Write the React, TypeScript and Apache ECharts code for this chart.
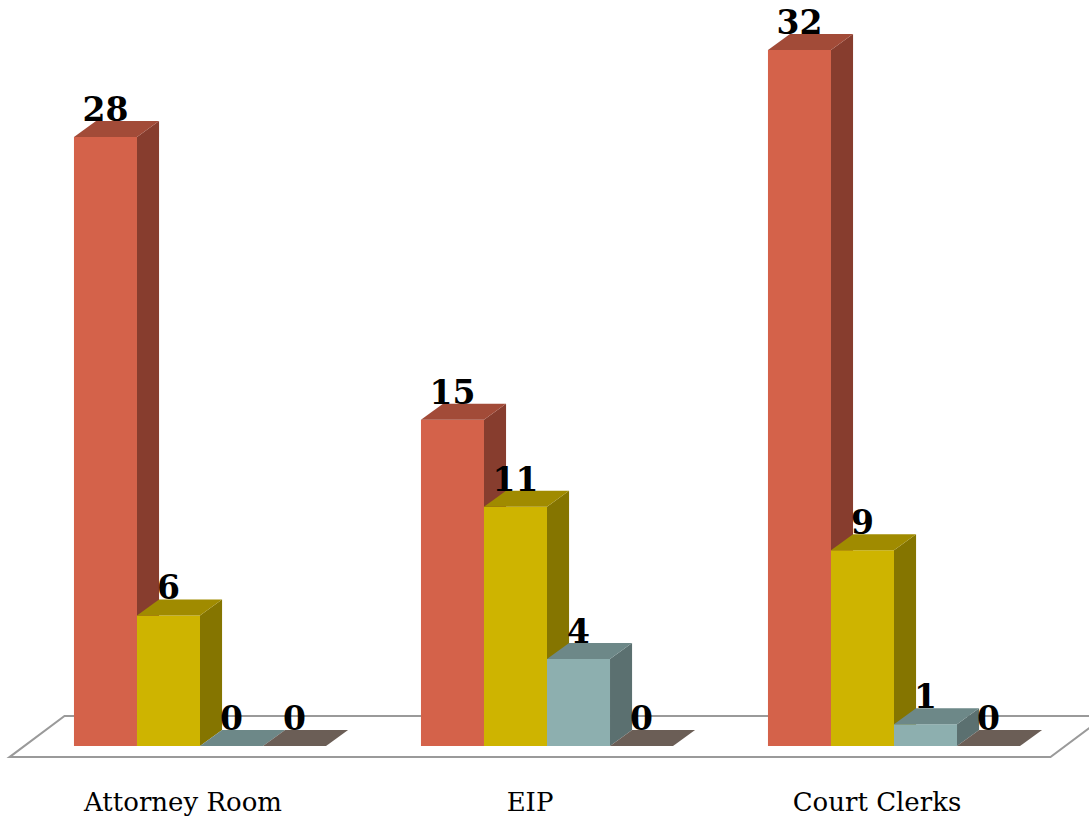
import { useEffect, useRef } from "react";
import * as echarts from "echarts";

// Category names and values for each of the four series
const categories = ["Attorney Room", "EIP", "Court Clerks"];
const seriesRed = [28, 15, 32];
const seriesYellow = [6, 11, 9];
const seriesTeal = [0, 4, 1];
const seriesBrown = [0, 0, 0];
const allSeries = [seriesRed, seriesYellow, seriesTeal, seriesBrown];

// Face shades for each box: front, right side, top
const shades = [
  { front: "#D4624A", side: "#873D2E", top: "#A24B38" },
  { front: "#CEB400", side: "#857500", top: "#A08B00" },
  { front: "#8DAFAF", side: "#5B7070", top: "#6D8888" },
  { front: "#7A6C62", side: "#564B44", top: "#6B5E56" },
];

const BAR_RATIO = 0.1816; // bar width relative to the category band
const GROUP_SHIFT = 0.049; // group offset to the right of the band centre
const DEPTH_X = 0.35; // depth offset, in bar widths
const DEPTH_Y = 0.254;

function boxRenderer(idx: number) {
  return (params: any, api: any) => {
    const cat = api.value(0);
    const val = api.value(1);
    const base = api.coord([cat, 0]);
    const top = api.coord([cat, val]);
    const band = api.size([1, 0])[0];
    const w = band * BAR_RATIO;
    const x0 = base[0] + band * GROUP_SHIFT + (idx - 2) * w;
    const x1 = x0 + w;
    const yb = base[1];
    const yt = top[1];
    const dx = w * DEPTH_X;
    const dy = w * DEPTH_Y;
    const c = shades[idx];
    const children: any[] = [];
    if (yb - yt > 0.5) {
      children.push({
        type: "rect",
        shape: { x: x0, y: yt, width: w, height: yb - yt },
        style: { fill: c.front },
      });
      children.push({
        type: "polygon",
        shape: {
          points: [
            [x1, yb],
            [x1 + dx, yb - dy],
            [x1 + dx, yt - dy],
            [x1, yt],
          ],
        },
        style: { fill: c.side },
      });
    }
    children.push({
      type: "polygon",
      shape: {
        points: [
          [x0, yt],
          [x1, yt],
          [x1 + dx, yt - dy],
          [x0 + dx, yt - dy],
        ],
      },
      style: { fill: c.top },
    });
    children.push({
      type: "text",
      x: x0 + w / 2,
      y: yt - dy + 5,
      style: {
        text: String(val),
        fill: "#000",
        font: "bold 33px 'DejaVu Serif'",
        align: "center",
        verticalAlign: "bottom",
        textAlign: "center",
        textVerticalAlign: "bottom",
      },
    });
    return { type: "group", children };
  };
}

// Floor plate under the bars, drawn from the grid extent
function floorRenderer(params: any, api: any) {
  const cs = params.coordSys;
  const base = api.coord([0, 0]);
  const band = api.size([1, 0])[0];
  const y0 = base[1];
  const front = y0 + band * 0.032;
  const back = y0 - band * 0.0865;
  const shift = band * 0.1585;
  return {
    type: "polygon",
    shape: {
      points: [
        [cs.x, front],
        [cs.x + cs.width, front],
        [cs.x + cs.width + shift, back],
        [cs.x + shift, back],
      ],
    },
    style: { fill: "#fff", stroke: "#9A9A9A", lineWidth: 2 },
  };
}

export default function App() {
  const ref = useRef<HTMLDivElement>(null);

  useEffect(() => {
    if (!ref.current) return;
    const chart = echarts.init(ref.current, null, { renderer: "svg" });
    chart.setOption({
      animation: false,
      backgroundColor: "#fff",
      grid: { left: 9.5, right: 38.5, top: 6.5, bottom: 72 },
      xAxis: {
        type: "category",
        data: categories,
        axisLine: { show: false },
        axisTick: { show: false },
        axisLabel: {
          margin: 43,
          color: "#000",
          fontFamily: "DejaVu Serif",
          fontSize: 26,
          lineHeight: 26,
          verticalAlign: "top",
        },
      },
      yAxis: {
        type: "value",
        min: 0,
        max: 34,
        show: false,
        splitLine: { show: false },
      },
      series: [
        {
          type: "custom",
          renderItem: floorRenderer,
          data: [[0, 0]],
          z: 1,
          silent: true,
        },
        ...allSeries.map((vals, i) => ({
          type: "custom",
          renderItem: boxRenderer(i),
          data: vals.map((v, k) => [k, v]),
          z: 2 + i,
        })),
      ],
    });
    return () => chart.dispose();
  }, []);

  return (
    <div
      ref={ref}
      style={{ position: "fixed", left: 0, top: 0, width: 1089, height: 818 }}
    />
  );
}
